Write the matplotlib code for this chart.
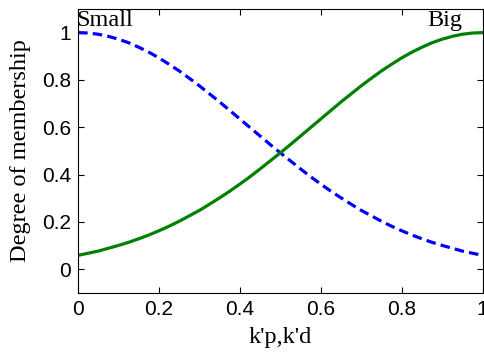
import numpy as np
import matplotlib
matplotlib.use('Agg')
from matplotlib import pyplot as plt

# membership values
x = [0.000, 0.025, 0.050, 0.075, 0.100, 0.125, 0.150, 0.175, 0.200, 0.225,
     0.250, 0.275, 0.300, 0.325, 0.350, 0.375, 0.400, 0.425, 0.450, 0.475,
     0.500, 0.525, 0.550, 0.575, 0.600, 0.625, 0.650, 0.675, 0.700, 0.725,
     0.750, 0.775, 0.800, 0.825, 0.850, 0.875, 0.900, 0.925, 0.950, 0.975,
     1.000]
small = [1.000, 0.998, 0.993, 0.984, 0.972, 0.957, 0.938, 0.917, 0.893, 0.866,
         0.838, 0.807, 0.775, 0.741, 0.707, 0.671, 0.635, 0.599, 0.563, 0.527,
         0.492, 0.458, 0.424, 0.391, 0.360, 0.330, 0.302, 0.275, 0.249, 0.226,
         0.203, 0.182, 0.163, 0.145, 0.129, 0.114, 0.101, 0.089, 0.077, 0.068,
         0.059]
big = small[::-1]

xticks = [0, 0.2, 0.4, 0.6, 0.8, 1]
yticks = [0, 0.2, 0.4, 0.6, 0.8, 1]

plt.rcParams['font.family'] = ['Liberation Sans', 'DejaVu Sans']

fig = plt.figure(figsize=(4.85, 3.56), dpi=100)
ax = fig.add_axes([0.161, 0.177, 0.834, 0.798])

ax.plot(x, small, '--', color=(0, 0, 1), linewidth=2.3, dashes=(3, 1.6))
ax.plot(x, big, '-', color=(0, 0.5, 0), linewidth=2.3)

ax.set_xlim(0, 1)
ax.set_ylim(-0.1, 1.1)
ax.set_xticks(xticks)
ax.set_yticks(yticks)
ax.set_xticklabels(['0', '0.2', '0.4', '0.6', '0.8', '1'])
ax.set_yticklabels(['0', '0.2', '0.4', '0.6', '0.8', '1'])
ax.tick_params(direction='in', top=True, right=True, labelsize=15, length=4, pad=5)

serif = dict(family=['Liberation Serif', 'DejaVu Serif'], fontsize=17.5)
ax.set_xlabel("k'p,k'd", labelpad=6, **serif)
ax.set_ylabel('Degree of membership', labelpad=8, **serif)
ax.text(-0.005, 1.05, 'Small', ha='left', va='center', **serif)
ax.text(0.864, 1.05, 'Big', ha='left', va='center', **serif)

fig.savefig('out.png', dpi=100)
